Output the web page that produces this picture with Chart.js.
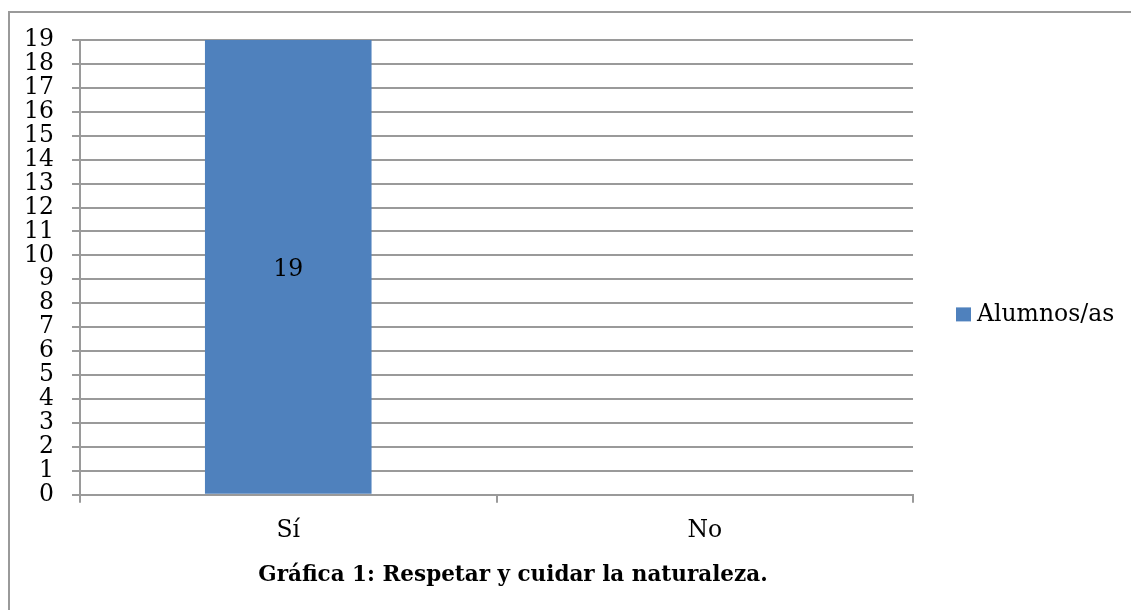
<!DOCTYPE html>
<html>
<head>
<meta charset="utf-8">
<script src="https://cdn.jsdelivr.net/npm/chart.js@4"></script>
<style>
  html, body { margin: 0; padding: 0; background: #fff; overflow: hidden; }
  #wrap { position: relative; width: 1131px; height: 610px; }
  #frame { position: absolute; left: 8px; top: 11px; width: 1200px; height: 700px;
           border: 2px solid #9a9a9a; box-sizing: border-box; }
  #chart { position: absolute; left: 0; top: 0; }
  #caption { position: absolute; left: 0; top: 561px; width: 1026px; text-align: center;
             font-family: "DejaVu Serif", serif; font-weight: bold; font-size: 21.5px; color: #000; }
</style>
</head>
<body>
<div id="wrap">
  <div id="frame"></div>
  <canvas id="chart" width="1131" height="610"></canvas>
  <div id="caption">Gráfica 1: Respetar y cuidar la naturaleza.</div>
</div>
<script>
  var categories = ['Sí', 'No'];
  var alumnos = [19, 0];
  var seriesLabel = 'Alumnos/as';
  var yMax = 19;

  var FONT = 'DejaVu Serif';
  var FSIZE = 23.5;
  var GRID = '#9a9a9a';

  // value written in the middle of each bar
  var barLabels = {
    id: 'barLabels',
    afterDatasetsDraw: function (chart) {
      var ctx = chart.ctx;
      var meta = chart.getDatasetMeta(0);
      ctx.save();
      ctx.font = FSIZE + 'px "' + FONT + '"';
      ctx.fillStyle = '#000';
      ctx.textAlign = 'center';
      ctx.textBaseline = 'middle';
      meta.data.forEach(function (bar, i) {
        var v = chart.data.datasets[0].data[i];
        if (!v) return;
        ctx.fillText(String(v), bar.x, (bar.y + bar.base) / 2 + 3);
      });
      ctx.restore();
    }
  };

  // legend to the right of the plot, a bit below the middle
  var sideLegend = {
    id: 'sideLegend',
    afterDraw: function (chart) {
      var ctx = chart.ctx;
      var area = chart.chartArea;
      var ds = chart.data.datasets[0];
      var x = area.right + 43;
      var yc = (area.top + area.bottom) / 2 + 47;
      ctx.save();
      ctx.fillStyle = ds.backgroundColor;
      ctx.fillRect(x, yc - 7, 15, 14);
      ctx.font = FSIZE + 'px "' + FONT + '"';
      ctx.fillStyle = '#000';
      ctx.textAlign = 'left';
      ctx.textBaseline = 'middle';
      ctx.fillText(ds.label, x + 21, yc);
      ctx.restore();
    }
  };

  new Chart(document.getElementById('chart').getContext('2d'), {
    type: 'bar',
    data: {
      labels: categories,
      datasets: [{
        label: seriesLabel,
        data: alumnos,
        backgroundColor: '#4F81BD',
        borderWidth: 0,
        barPercentage: 1,
        categoryPercentage: 0.4
      }]
    },
    options: {
      responsive: false,
      animation: false,
      layout: { padding: { left: 10, top: 40, right: 218, bottom: 51 } },
      plugins: {
        legend: { display: false },
        tooltip: { enabled: false }
      },
      scales: {
        x: {
          offset: true,
          grid: { offset: true, drawOnChartArea: false, drawTicks: true, tickLength: 8, color: GRID, lineWidth: 2 },
          border: { color: GRID, width: 2 },
          ticks: { color: '#000', font: { family: FONT, size: FSIZE }, padding: 14 }
        },
        y: {
          min: 0,
          max: yMax,
          afterFit: function (scale) { scale.width = 70; },
          grid: { color: GRID, lineWidth: 2, tickLength: 8 },
          border: { color: GRID, width: 2 },
          ticks: { stepSize: 1, autoSkip: false, color: '#000', font: { family: FONT, size: FSIZE }, padding: 18 }
        }
      }
    },
    plugins: [barLabels, sideLegend]
  });
</script>
</body>
</html>
